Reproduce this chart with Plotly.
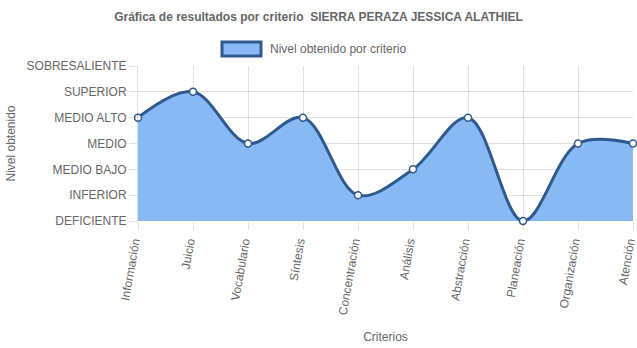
import plotly.graph_objects as go

criterios = ["Información", "Juicio", "Vocabulario", "Síntesis", "Concentración",
             "Análisis", "Abstracción", "Planeación", "Organización", "Atención"]
niveles = ["DEFICIENTE", "INFERIOR", "MEDIO BAJO", "MEDIO", "MEDIO ALTO",
           "SUPERIOR", "SOBRESALIENTE"]
valores = [4, 5, 3, 4, 1, 2, 4, 0, 3, 3]

FONT = "Liberation Sans, Arial, Helvetica, sans-serif"
GRAY = "#666666"
FILL = "#89b9f5"
LINE = "#2e5a8d"
GRID = "rgba(0,0,0,0.12)"

fig = go.Figure()
fig.add_trace(go.Scatter(
    x=list(range(len(criterios))), y=valores,
    mode="lines+markers",
    line=dict(shape="spline", smoothing=1.0, color=LINE, width=3),
    fill="tozeroy", fillcolor=FILL,
    marker=dict(size=7, color="white", line=dict(color=LINE, width=1.5)),
    cliponaxis=False, showlegend=False,
))

# legend swatch and label
fig.add_shape(type="rect", xref="paper", yref="paper",
              x0=(222 - 138) / 495, x1=(261 - 138) / 495,
              y0=(221 - 56) / 155, y1=(221 - 42) / 155,
              fillcolor=FILL, line=dict(color=LINE, width=3))
fig.add_annotation(text="Nivel obtenido por criterio", xref="paper", yref="paper",
                   x=(268 - 138) / 495, y=(221 - 49) / 155, xanchor="left",
                   yanchor="middle", showarrow=False,
                   font=dict(family=FONT, size=12, color=GRAY))

fig.update_layout(
    width=637, height=348,
    margin=dict(l=138, r=4, t=66, b=127),
    paper_bgcolor="white", plot_bgcolor="white",
    font=dict(family=FONT, size=12, color=GRAY),
    title=dict(text="<b>Gráfica de resultados por criterio  SIERRA PERAZA JESSICA ALATHIEL</b>",
               x=0.5, xref="container", y=1 - 17 / 348, yref="container",
               xanchor="center", yanchor="middle",
               font=dict(family=FONT, size=12, color=GRAY)),
    xaxis=dict(
        range=[0, len(criterios) - 1],
        tickvals=list(range(len(criterios))), ticktext=criterios,
        tickangle=-80, showgrid=True, gridcolor=GRID,
        ticks="outside", ticklen=8, tickcolor=GRID,
        ticklabeloverflow="allow", automargin=False,
        ticklabelshift=-4,
        zeroline=False, showline=False,
        title=dict(text="Criterios", standoff=17,
                   font=dict(family=FONT, size=12, color=GRAY)),
        tickfont=dict(family=FONT, size=12, color=GRAY),
    ),
    yaxis=dict(
        range=[0, 6],
        tickvals=list(range(len(niveles))), ticktext=niveles,
        showgrid=True, gridcolor=GRID,
        ticks="outside", ticklen=8, tickcolor=GRID,
        automargin=False,
        zeroline=False, showline=True, linecolor=GRID,
        title=dict(text="Nivel obtenido", standoff=8,
                   font=dict(family=FONT, size=12, color=GRAY)),
        tickfont=dict(family=FONT, size=12, color=GRAY),
    ),
)

fig.write_html("out.html")
